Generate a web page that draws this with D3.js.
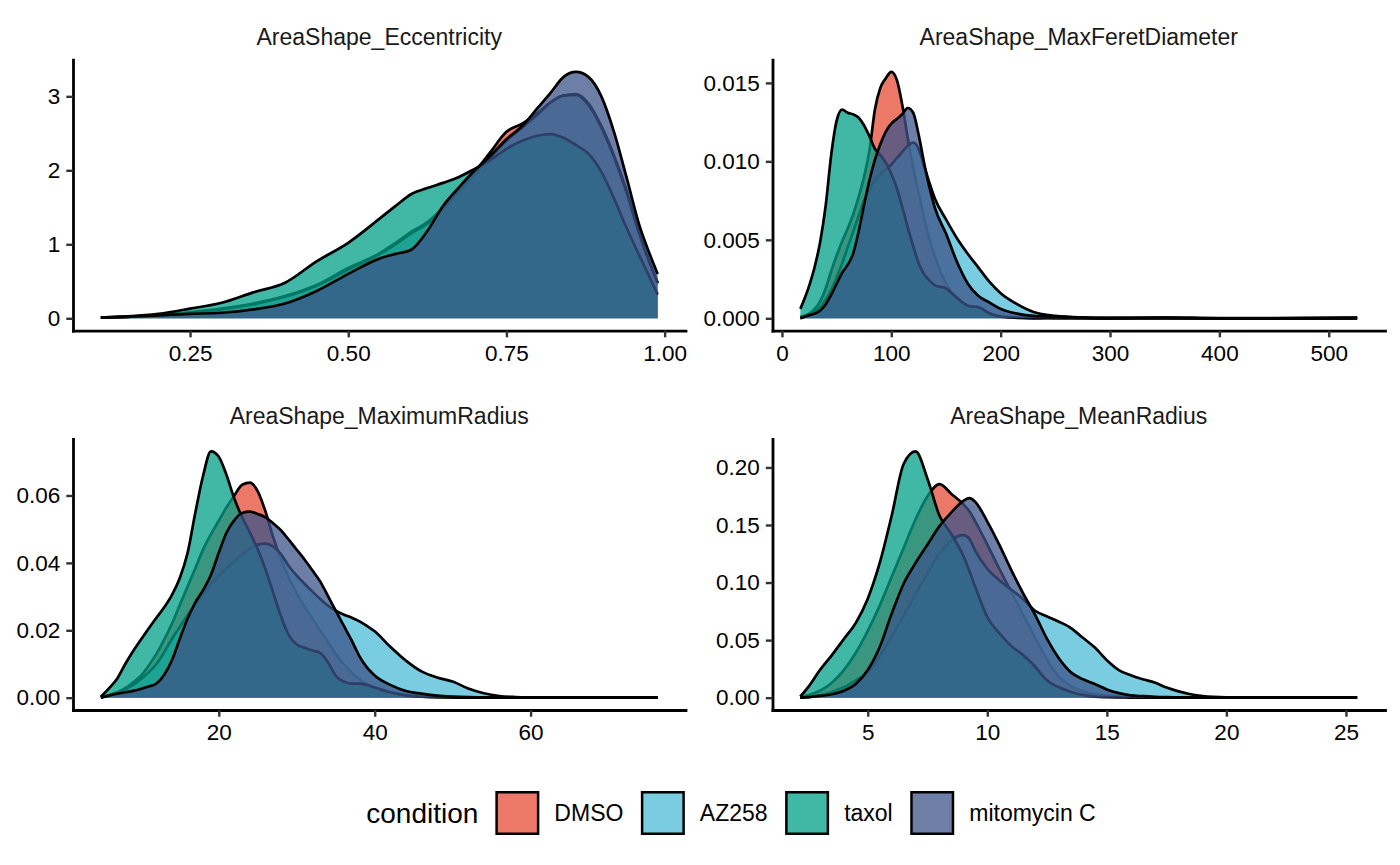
<!DOCTYPE html>
<html>
<head>
<meta charset="utf-8">
<script src="https://cdn.jsdelivr.net/npm/d3@7"></script>
<style>
  body { margin: 0; background: #fff; }
  svg { display: block; }
  text { font-family: "Liberation Sans", Arial, Helvetica, sans-serif; }
</style>
</head>
<body>
<svg id="chart" width="1400" height="865"></svg>
<script>
// ---------------- data ----------------
const conditions = ["DMSO", "AZ258", "taxol", "mitomycin C"];
const colors = ["#E64B35", "#4DBBD5", "#00A087", "#3C5488"];
const panelTitles = ["AreaShape_Eccentricity", "AreaShape_MaxFeretDiameter", "AreaShape_MaximumRadius", "AreaShape_MeanRadius"];

// Panel 1: Eccentricity
const eccX     = [0.109,0.15,0.2,0.25,0.3,0.35,0.4,0.45,0.5,0.55,0.575,0.6,0.625,0.65,0.675,0.7,0.725,0.75,0.775,0.8,0.82,0.84,0.86,0.88,0.9,0.92,0.94,0.96,0.975,0.989];
const eccDMSO  = [0.01,0.02,0.045,0.08,0.13,0.2,0.3,0.45,0.68,0.88,1.02,1.17,1.3,1.5,1.75,1.98,2.25,2.52,2.63,2.78,2.92,3.01,3.03,2.9,2.6,2.2,1.72,1.15,0.78,0.47];
const eccAZ258 = [0.01,0.02,0.04,0.075,0.12,0.19,0.29,0.44,0.66,0.87,1.0,1.15,1.28,1.48,1.72,1.95,2.18,2.4,2.58,2.76,2.92,3.01,3.02,2.88,2.58,2.18,1.7,1.14,0.78,0.48];
const eccTaxol = [0.01,0.025,0.06,0.13,0.21,0.35,0.48,0.77,1.02,1.35,1.52,1.68,1.76,1.83,1.91,2.02,2.14,2.29,2.4,2.47,2.49,2.44,2.34,2.22,1.98,1.62,1.22,0.85,0.58,0.32];
const eccMito  = [0.01,0.02,0.04,0.06,0.075,0.12,0.2,0.37,0.6,0.81,0.87,0.93,1.18,1.52,1.77,2.0,2.2,2.42,2.6,2.85,3.05,3.26,3.33,3.26,3.0,2.52,1.9,1.26,0.9,0.6];

// Panel 2: MaxFeretDiameter
const mfdX     = [16.8,25,30,35,40,45,50,55,60,65,70,75,80,85,90,95,100,105,110,115,120,125,130,135,140,150,160,170,180,190,200,215,230,250,275,300,350,400,450,526];
const mfdDMSO  = [0.0001,0.0003,0.0006,0.0011,0.0019,0.003,0.004,0.0049,0.0057,0.0066,0.0077,0.009,0.0107,0.0133,0.0147,0.0153,0.0157,0.0152,0.0136,0.0115,0.0096,0.008,0.0064,0.005,0.0039,0.0022,0.0013,0.0008,0.0005,0.0003,0.00015,0.00005,0.00002,0,0,0,0,0,0,0];
const mfdAZ258 = [0,0.0002,0.0004,0.0007,0.0012,0.0018,0.0026,0.0035,0.0045,0.0055,0.0065,0.0075,0.0082,0.0088,0.0092,0.0095,0.0098,0.0102,0.0106,0.011,0.0112,0.0108,0.0097,0.0086,0.0076,0.0063,0.0051,0.0041,0.0032,0.0023,0.0016,0.0009,0.0004,0.00015,0.00005,0.00002,0.00001,0,0,0];
const mfdTaxol = [0.0006,0.0021,0.0033,0.0049,0.0072,0.0104,0.0126,0.0133,0.0131,0.013,0.0128,0.0123,0.0116,0.0108,0.0104,0.0099,0.0092,0.0083,0.0071,0.0058,0.0046,0.0035,0.0028,0.0024,0.0021,0.0019,0.0013,0.0008,0.0007,0.0003,0.0001,0.00003,0,0.00005,0.00002,0,0.00004,0,0,0.00002];
const mfdMito  = [0,0.0002,0.0003,0.0005,0.0009,0.0015,0.0022,0.0029,0.0034,0.0041,0.0055,0.0072,0.0088,0.0101,0.0111,0.0119,0.0124,0.0127,0.013,0.0134,0.0131,0.0117,0.0099,0.0083,0.007,0.0054,0.0036,0.0022,0.0014,0.001,0.0006,0.0003,0.00015,0.0001,0.00005,0.00002,0.00005,0.00001,0.00001,0.00005];

// Panel 3: MaximumRadius
const mxrX     = [4.87,6,7,8,9,10,11,12,13,14,15,16,17,18,19,20,21,22,23,24,25,26,27,28,29,30,31,32,33,34,35,36,37,38,39,40,42,44,46,48,50,52,54,56,58,60,64,68,72,76.3];
const mxrDMSO  = [0.0001,0.0008,0.0016,0.0028,0.0045,0.0065,0.0095,0.013,0.0172,0.022,0.0275,0.033,0.0385,0.044,0.0485,0.0525,0.0565,0.06,0.0632,0.0638,0.0612,0.0552,0.0475,0.041,0.0355,0.031,0.027,0.0235,0.02,0.0165,0.013,0.01,0.0075,0.0055,0.004,0.003,0.0017,0.0009,0.0005,0.0003,0.0001,0.00005,0,0,0,0,0,0,0,0];
const mxrAZ258 = [0.0001,0.0008,0.0015,0.0025,0.0038,0.0055,0.0075,0.01,0.0135,0.0175,0.021,0.0245,0.0278,0.031,0.0338,0.0362,0.0385,0.0405,0.0425,0.0442,0.0454,0.0457,0.0448,0.0425,0.039,0.0362,0.0338,0.0315,0.0293,0.0273,0.0258,0.0247,0.0238,0.0227,0.0213,0.0197,0.0151,0.011,0.0078,0.006,0.0048,0.0027,0.0013,0.0005,0.0002,0.0001,0.00005,0.00002,0,0];
const mxrTaxol = [0.0003,0.003,0.0058,0.01,0.0138,0.0172,0.0205,0.0237,0.0268,0.0305,0.0355,0.043,0.055,0.066,0.0731,0.0715,0.066,0.059,0.0535,0.049,0.044,0.038,0.031,0.024,0.0185,0.0158,0.0148,0.014,0.0133,0.0105,0.0065,0.0048,0.0042,0.0042,0.0038,0.003,0.0016,0.0007,0.0003,0.0001,0.00005,0,0,0,0,0,0,0,0,0];
const mxrMito  = [0,0.0007,0.0012,0.0016,0.002,0.0026,0.0033,0.0042,0.0068,0.0112,0.0175,0.0235,0.0283,0.032,0.0365,0.043,0.049,0.0527,0.0548,0.0552,0.0545,0.0535,0.0517,0.0496,0.0468,0.0439,0.041,0.0378,0.0345,0.0302,0.0258,0.0215,0.0172,0.0125,0.009,0.0066,0.0038,0.002,0.0012,0.0006,0.0003,0.00015,0.0001,0.00005,0.00005,0.0001,0.00005,0.00002,0.00002,0.00002];

// Panel 4: MeanRadius
const mnrX     = [2.18,2.5,3,3.5,4,4.5,5,5.5,6,6.5,7,7.5,8,8.5,9,9.25,9.5,10,10.5,11,11.5,12,12.5,13,13.5,14,14.5,15,15.5,16,16.5,17,17.5,18,18.5,19,20,21,22,23,24,25.47];
const mnrDMSO  = [0.0003,0.002,0.006,0.013,0.024,0.039,0.058,0.08,0.105,0.13,0.155,0.175,0.1855,0.177,0.168,0.162,0.153,0.133,0.112,0.092,0.072,0.052,0.033,0.018,0.01,0.0055,0.003,0.0018,0.001,0.0006,0.0003,0.0002,0.0001,0.0001,0,0,0,0,0,0,0,0];
const mnrAZ258 = [0,0.0005,0.002,0.005,0.009,0.015,0.022,0.036,0.053,0.071,0.09,0.108,0.125,0.137,0.1412,0.138,0.1275,0.112,0.102,0.094,0.0855,0.0755,0.0705,0.066,0.0605,0.052,0.0435,0.0325,0.024,0.0195,0.016,0.0132,0.0088,0.0055,0.003,0.0014,0.0003,0.0001,0.0001,0.0001,0.00005,0.00005];
const mnrTaxol = [0.001,0.009,0.024,0.037,0.051,0.065,0.086,0.117,0.158,0.203,0.214,0.19,0.158,0.142,0.123,0.11,0.096,0.07,0.056,0.045,0.037,0.027,0.015,0.009,0.005,0.0025,0.0009,0.0004,0.0002,0.0001,0,0,0,0,0,0,0,0,0,0,0,0];
const mnrMito  = [0,0.0005,0.0015,0.003,0.006,0.012,0.024,0.044,0.073,0.099,0.117,0.133,0.149,0.161,0.171,0.1733,0.17,0.153,0.133,0.111,0.0905,0.072,0.051,0.034,0.022,0.016,0.0118,0.0072,0.004,0.002,0.0013,0.0008,0.0005,0.0003,0.0002,0.0001,0.0001,0.00005,0.0001,0.0001,0.00005,0.00005];

// tick values
const eccXTicks = [0.25, 0.5, 0.75, 1.0];
const eccYTicks = [0, 1, 2, 3];
const mfdXTicks = [0, 100, 200, 300, 400, 500];
const mfdYTicks = [0, 0.005, 0.01, 0.015];
const mxrXTicks = [20, 40, 60];
const mxrYTicks = [0, 0.02, 0.04, 0.06];
const mnrXTicks = [5, 10, 15, 20, 25];
const mnrYTicks = [0, 0.05, 0.1, 0.15, 0.2];

// ---------------- layout ----------------
const svg = d3.select("#chart");
const panelW = 612.5, panelH = 271;
const colLeft = [73, 772.5];
const rowTop = [59.6, 439];

const panels = [
  { title: panelTitles[0], x: eccX, series: [eccDMSO, eccAZ258, eccTaxol, eccMito], xTicks: eccXTicks, xFmt: ".2f", yTicks: eccYTicks, yFmt: "d" },
  { title: panelTitles[1], x: mfdX, series: [mfdDMSO, mfdAZ258, mfdTaxol, mfdMito], xTicks: mfdXTicks, xFmt: "d", yTicks: mfdYTicks, yFmt: ".3f" },
  { title: panelTitles[2], x: mxrX, series: [mxrDMSO, mxrAZ258, mxrTaxol, mxrMito], xTicks: mxrXTicks, xFmt: "d", yTicks: mxrYTicks, yFmt: ".2f" },
  { title: panelTitles[3], x: mnrX, series: [mnrDMSO, mnrAZ258, mnrTaxol, mnrMito], xTicks: mnrXTicks, xFmt: "d", yTicks: mnrYTicks, yFmt: ".2f" }
];

function styleAxis(g) {
  g.attr("font-size", null).attr("font-family", null);
  g.select(".domain").attr("stroke", "#000").attr("stroke-width", 2.8).attr("stroke-linecap", "square");
  g.selectAll(".tick line").attr("stroke", "#333").attr("stroke-width", 2.4);
  g.selectAll(".tick text").attr("fill", "#000").style("font-size", "22.5px");
}

panels.forEach((p, i) => {
  const left = colLeft[i % 2], top = rowTop[Math.floor(i / 2)];
  const xExt = d3.extent(p.x);
  const xPad = (xExt[1] - xExt[0]) * 0.05;
  const x = d3.scaleLinear().domain([xExt[0] - xPad, xExt[1] + xPad]).range([0, panelW]);
  const yMax = d3.max(p.series, s => d3.max(s));
  const y = d3.scaleLinear().domain([-yMax * 0.05, yMax * 1.05]).range([panelH, 0]);

  const g = svg.append("g").attr("transform", `translate(${left},${top})`);

  const area = d3.area().x(d => x(d[0])).y0(y(0)).y1(d => y(d[1])).curve(d3.curveMonotoneX);
  const line = d3.line().x(d => x(d[0])).y(d => y(d[1])).curve(d3.curveMonotoneX);

  p.series.forEach((s, k) => {
    const pts = p.x.map((xv, j) => [xv, s[j]]);
    g.append("path").datum(pts).attr("d", area)
      .attr("fill", colors[k]).attr("fill-opacity", 0.75).attr("stroke", "none");
    g.append("path").datum(pts).attr("d", line)
      .attr("fill", "none").attr("stroke", "#000").attr("stroke-width", 2.7)
      .attr("stroke-linejoin", "round");
  });

  // axes
  const xAxis = d3.axisBottom(x).tickValues(p.xTicks).tickFormat(d3.format(p.xFmt))
    .tickSize(6.7).tickSizeOuter(0).tickPadding(7.5);
  const yAxis = d3.axisLeft(y).tickValues(p.yTicks).tickFormat(d3.format(p.yFmt))
    .tickSize(6.7).tickSizeOuter(0).tickPadding(6);
  g.append("g").attr("transform", `translate(0,${panelH})`).call(xAxis).call(styleAxis);
  g.append("g").call(yAxis).call(styleAxis);

  // strip title
  svg.append("text")
    .attr("x", left + panelW / 2).attr("y", top - 14.8)
    .attr("text-anchor", "middle").attr("fill", "#1A1A1A")
    .style("font-size", "23px")
    .text(p.title);
});

// ---------------- legend ----------------
const lg = svg.append("g");
const lgTitle = lg.append("text").attr("x", 0).attr("y", 0).attr("dy", "0.35em")
  .attr("fill", "#000").style("font-size", "28px").text("condition");
let cx = lgTitle.node().getComputedTextLength() + 17;
conditions.forEach((c, k) => {
  lg.append("rect").attr("x", cx + 1.25).attr("y", -20.75).attr("width", 41.5).attr("height", 41.5)
    .attr("fill", colors[k]).attr("fill-opacity", 0.75)
    .attr("stroke", "#000").attr("stroke-width", 2.5);
  cx += 44 + 15;
  const t = lg.append("text").attr("x", cx).attr("y", 0).attr("dy", "0.35em")
    .attr("fill", "#000").style("font-size", "23px").text(c);
  cx += t.node().getComputedTextLength() + 17.5;
});
const legendW = cx - 17.5;
lg.attr("transform", `translate(${731 - legendW / 2},813)`);
</script>
</body>
</html>
